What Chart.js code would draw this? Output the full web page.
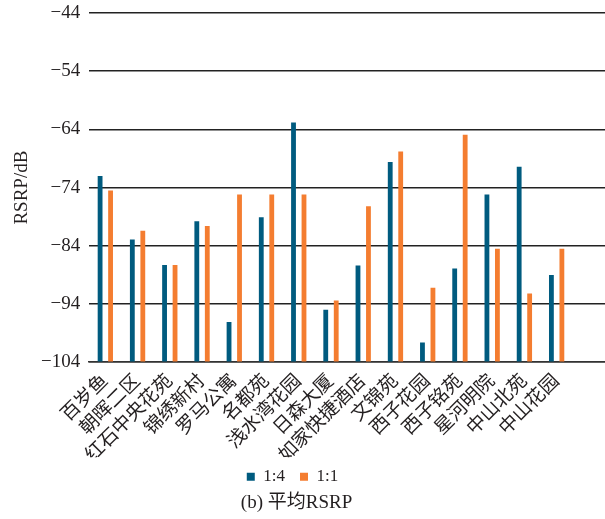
<!DOCTYPE html>
<html>
<head>
<meta charset="utf-8">
<script src="https://cdn.jsdelivr.net/npm/chart.js@4/dist/chart.umd.min.js"></script>
<style>
  html, body { margin: 0; padding: 0; background: #fff; }
  #wrap { width: 605px; height: 519px; }
</style>
</head>
<body>
<div id="wrap"><canvas id="bar-chart" width="605" height="519"></canvas></div>
<script>
const categories = [
  "百岁鱼", "朝晖二区", "红石中央花苑", "锦绣新村", "罗马公寓",
  "名都苑", "浅水湾花园", "日森大厦", "如家快捷酒店", "文锦苑",
  "西子花园", "西子铭苑", "星河明院", "中山北苑", "中山花园"
];
const ratio14 = [-72.0, -82.9, -87.3, -79.8, -97.1, -79.1, -62.8, -95.0, -87.4, -69.6, -100.6, -87.9, -75.2, -70.4, -89.0];
const ratio11 = [-74.5, -81.4, -87.3, -80.6, -75.2, -75.2, -75.2, -93.4, -77.2, -67.8, -91.2, -64.9, -84.5, -92.2, -84.5];
const yTicks = [-104, -94, -84, -74, -64, -54, -44];

const serif = "'Liberation Serif', 'Noto Sans CJK SC', serif";
const textColor = "#231f20";

// one blank slot at the right so the grid runs to the edge like the original
const labels = categories.concat([""]);

// pull legend + caption up/left a bit, the original sits off-centre
const legendNudge = {
  id: "legendNudge",
  afterLayout(chart) {
    const lg = chart.legend;
    lg.top -= 4;
    lg.bottom -= 4;
    lg.left -= 10;
    lg.right -= 10;
    const tb = chart.titleBlock;
    tb.left -= 6;
    tb.right -= 6;
  },
};

const config = {
  type: "bar",
  data: {
    labels: labels,
    datasets: [
      {
        label: "1:4",
        data: ratio14,
        backgroundColor: "#005b7f",
        base: -104,
        categoryPercentage: 0.65,
        barPercentage: 0.46,
      },
      {
        label: "1:1",
        data: ratio11,
        backgroundColor: "#f47d30",
        base: -104,
        categoryPercentage: 0.65,
        barPercentage: 0.46,
      },
    ],
  },
  plugins: [legendNudge],
  options: {
    responsive: false,
    animation: false,
    layout: { padding: { left: 0, top: 13, right: 0, bottom: 5 } },
    scales: {
      x: {
        grid: { display: false },
        border: { display: true, color: "#333", width: 1.5 },
        ticks: {
          color: textColor,
          font: { family: serif, size: 19 },
          minRotation: 45,
          maxRotation: 45,
          padding: 0,
          autoSkip: false,
        },
        afterFit: (s) => {
          s.height = 95;
        },
      },
      y: {
        min: -104,
        max: -44,
        afterBuildTicks: (axis) => {
          axis.ticks = yTicks.map((v) => ({ value: v }));
        },
        afterFit: (s) => {
          s.paddingTop = 0;
          s.paddingBottom = 0;
        },
        grid: { color: "#222", lineWidth: 1.5, drawTicks: false, tickLength: 0 },
        border: { display: false },
        ticks: {
          color: textColor,
          font: { family: serif, size: 19 },
          padding: 9,
          callback: (v) => String(v).replace("-", "\u2212"),
        },
        title: {
          display: true,
          text: "RSRP/dB",
          color: textColor,
          font: { family: serif, size: 19, lineHeight: 1 },
          padding: { top: 13, bottom: 0 },
        },
      },
    },
    plugins: {
      legend: {
        display: true,
        position: "bottom",
        maxHeight: 34,
        labels: {
          color: textColor,
          font: { family: serif, size: 17 },
          boxWidth: 8,
          boxHeight: 8,
          padding: 15,
        },
      },
      title: {
        display: true,
        position: "bottom",
        text: "(b) 平均RSRP",
        color: textColor,
        font: { family: serif, size: 19, weight: "normal" },
        padding: { top: 0, bottom: 0 },
      },
      tooltip: { enabled: false },
    },
  },
};

new Chart(document.getElementById("bar-chart").getContext("2d"), config);
</script>
</body>
</html>
